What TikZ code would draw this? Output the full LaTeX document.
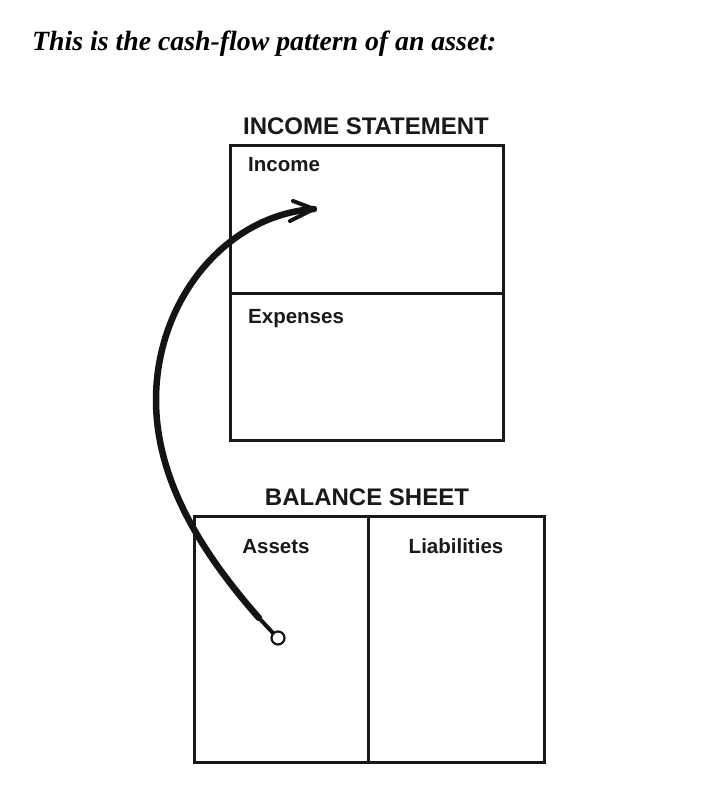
\documentclass[tikz,border=0pt]{standalone}
\usepackage{fontspec}
\setmainfont{Liberation Serif}
\newfontfamily\labelfont{Liberation Sans}
\begin{document}
\begin{tikzpicture}[x=1pt,y=-1pt,
  frame/.style={draw=black!90,line width=3pt},
  heading/.style={font=\labelfont\bfseries\fontsize{24}{26}\selectfont,text=black!90,inner sep=0pt},
  cell/.style={font=\labelfont\bfseries\fontsize{20.5}{24}\selectfont,text=black!90,inner sep=0pt},
  flow/.style={line width=6.5pt,black!92,line cap=round},
  barb/.style={line width=4pt,black!92,line cap=round,line join=round}]
\useasboundingbox (0,0) rectangle (720,786);
% caption
\node[anchor=base west,inner sep=0pt,font=\bfseries\itshape\fontsize{27.8}{30}\selectfont] (caption) at (32,51) {This is the cash-flow pattern of an asset:};
% income statement
\node[heading,anchor=base] (isTitle) at (366,135) {INCOME STATEMENT};
\draw[frame] (230,146) rectangle (503,440);
\draw[frame] (230,293) -- (503,293);
\node[cell,anchor=base west] (income) at (248,172) {Income};
\node[cell,anchor=base west] (expenses) at (248,323) {Expenses};
% balance sheet
\node[heading,anchor=base] (bsTitle) at (367,505) {BALANCE SHEET};
\draw[frame] (194,516) rectangle (544,762);
\draw[frame] (368,516) -- (368,762);
\node[cell,anchor=base] (assets) at (276,553) {Assets};
\node[cell,anchor=base] (liab) at (456,553) {Liabilities};
% cash flow from the asset into income
\node[circle,draw=black!92,line width=2.2pt,minimum size=13pt,inner sep=0pt] (src) at (278,638) {};
\coordinate (bend) at (156,400);
\coordinate (tip) at (314,209);
\draw[flow,line width=4pt] (src.north west) -- (259,618);
\draw[flow] (259,618) .. controls (208,560) and (156,485) .. (bend)
  .. controls (156,300) and (226,215) .. (tip);
\draw[barb] (293,201) -- (tip) -- (290,221);
\end{tikzpicture}
\end{document}
